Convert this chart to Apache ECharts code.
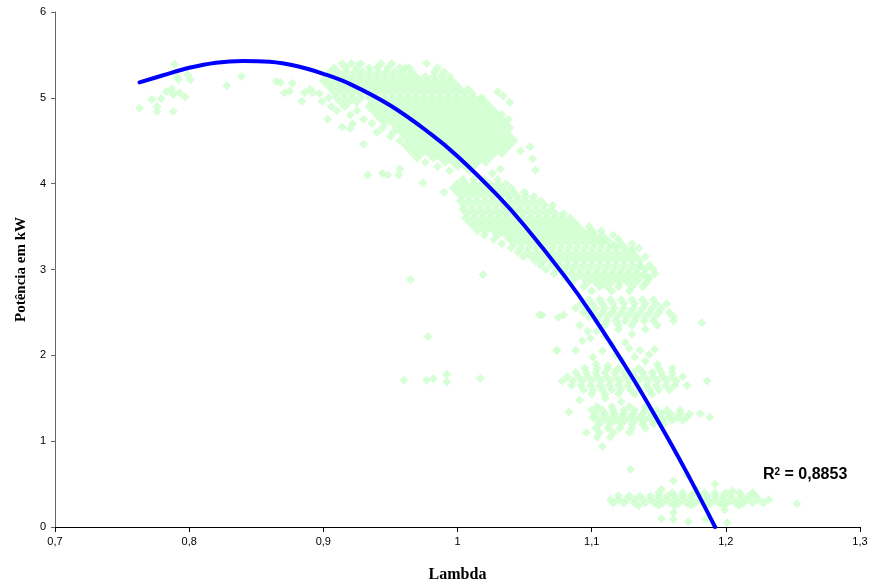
<!DOCTYPE html>
<html>
<head>
<meta charset="utf-8">
<script src="https://cdn.jsdelivr.net/npm/echarts@6/dist/echarts.min.js"></script>
<style>html,body{margin:0;padding:0;background:#fff;}#c{width:871px;height:588px;}</style>
</head>
<body>
<div id="c"></div>
<script>
// Axis tick labels
const xTickLabels = ['0,7','0,8','0,9','1','1,1','1,2','1,3'];
const yTickLabels = ['0','1','2','3','4','5','6'];
const xTitle = 'Lambda';
const yTitle = 'Potência em kW';
const r2Value = '0,8853';

// Trend line (polynomial, order 2)
const trendX = [0.763,0.78,0.80,0.82,0.84,0.86,0.88,0.90,0.92,0.95,0.98,1.00,1.03,1.05,1.08,1.10,1.13,1.15,1.17,1.192];
const trendY = [5.18,5.26,5.35,5.41,5.43,5.42,5.37,5.28,5.16,4.91,4.58,4.32,3.86,3.51,2.92,2.48,1.75,1.22,0.66,0.00];

// Scattered points: [lambda, kW]
const leftGroup = [[0.763,4.88],[0.772,4.98],[0.776,4.90],[0.776,4.84],[0.779,4.99],[0.783,5.07],[0.787,5.10],[0.788,5.04],[0.788,4.84],[0.789,5.39],[0.791,5.24],[0.792,5.21],[0.793,5.06],[0.797,5.01],[0.799,5.27],[0.801,5.21],[0.828,5.14],[0.839,5.25],[0.865,5.19],[0.871,5.06],[0.875,5.08],[0.877,5.17],[0.868,5.18],[0.886,5.06],[0.892,5.06],[0.884,4.96],[0.899,4.96],[0.903,4.75],[0.914,4.66],[0.920,4.64],[0.930,4.46],[0.933,4.10],[0.944,4.12],[0.948,4.10],[0.956,4.10],[0.957,4.17],[0.974,4.01]];

// Upper band rows: [kW, [lambda...]]
const bandA = [
 [5.40,[0.914,0.921,0.928,0.943,0.951,0.977]],
 [5.35,[0.908,0.917,0.925,0.934,0.940,0.948,0.957,0.961,0.964,0.985]],
 [5.30,[0.905,0.911,0.917,0.923,0.929,0.935,0.941,0.947,0.953,0.959,0.966,0.983,0.990]],
 [5.25,[0.903,0.909,0.915,0.921,0.927,0.933,0.939,0.945,0.951,0.957,0.963,0.969,0.976,0.982,0.988,0.994]],
 [5.20,[0.900,0.906,0.912,0.918,0.924,0.930,0.936,0.942,0.948,0.954,0.960,0.966,0.972,0.978,0.984,0.990,0.996]],
 [5.15,[0.903,0.909,0.915,0.921,0.927,0.933,0.939,0.945,0.951,0.957,0.963,0.969,0.975,0.981,0.987,0.993,0.999]],
 [5.10,[0.890,0.906,0.912,0.918,0.924,0.930,0.936,0.942,0.948,0.954,0.960,0.966,0.972,0.978,0.984,0.990,0.996,1.002,1.008]],
 [5.05,[0.897,0.909,0.915,0.921,0.927,0.933,0.939,0.945,0.951,0.957,0.963,0.969,0.975,0.981,0.987,0.993,0.999,1.005,1.011]],
 [5.00,[0.904,0.910,0.916,0.922,0.928,0.934,0.940,0.946,0.952,0.958,0.964,0.970,0.976,0.982,0.988,0.994,1.000,1.006,1.012,1.018]],
 [4.95,[0.913,0.919,0.925,0.937,0.943,0.949,0.955,0.961,0.967,0.973,0.979,0.985,0.991,0.997,1.003,1.009,1.015,1.021]],
 [4.90,[0.906,0.916,0.934,0.940,0.946,0.952,0.958,0.964,0.970,0.976,0.982,0.988,0.994,1.000,1.006,1.012,1.018,1.024]],
 [4.85,[0.910,0.925,0.937,0.943,0.949,0.955,0.961,0.967,0.973,0.979,0.985,0.991,0.997,1.003,1.009,1.015,1.021,1.027]],
 [4.80,[0.920,0.940,0.946,0.952,0.958,0.964,0.970,0.976,0.982,0.988,0.994,1.000,1.006,1.012,1.018,1.024,1.030]],
 [4.75,[0.930,0.943,0.949,0.955,0.961,0.967,0.973,0.979,0.985,0.991,0.997,1.003,1.009,1.015,1.021,1.027,1.033]],
 [4.70,[0.922,0.936,0.946,0.952,0.958,0.964,0.970,0.976,0.982,0.988,0.994,1.000,1.006,1.012,1.018,1.024,1.030,1.036]],
 [4.65,[0.944,0.955,0.961,0.967,0.973,0.979,0.985,0.991,0.997,1.003,1.009,1.015,1.021,1.027,1.033,1.039]],
 [4.60,[0.940,0.952,0.958,0.964,0.970,0.976,0.982,0.988,0.994,1.000,1.006,1.012,1.018,1.024,1.030,1.036]],
 [4.55,[0.950,0.961,0.967,0.973,0.979,0.985,0.991,0.997,1.003,1.009,1.015,1.021,1.027,1.033,1.039]],
 [4.50,[0.957,0.964,0.970,0.976,0.982,0.988,0.994,1.000,1.006,1.012,1.018,1.024,1.030,1.036,1.042]],
 [4.45,[0.961,0.967,0.973,0.979,0.985,0.991,0.997,1.003,1.009,1.015,1.021,1.027,1.033,1.039]],
 [4.40,[0.964,0.970,0.976,0.982,0.988,0.994,1.000,1.006,1.012,1.018,1.024,1.030,1.036]],
 [4.35,[0.967,0.973,0.979,0.985,0.991,0.997,1.003,1.009,1.015,1.021,1.027,1.033]],
 [4.30,[0.970,0.982,0.988,0.994,1.000,1.006,1.012,1.018,1.024]],
 [4.25,[0.976,0.991,0.997,1.003,1.009,1.015,1.021]],
 [4.20,[0.985,1.000,1.006,1.012]],
 [4.15,[0.994,1.009]]
];
const bandAEdge = [[1.030,5.07],[1.034,5.02],[1.039,4.95],[1.018,4.98],[1.033,4.81],[1.038,4.75],[1.047,4.38],[1.054,4.43],[1.056,4.29],[1.058,4.16],[1.026,4.12],[1.032,4.17]];

// Second band rows
const bandB = [
 [4.05,[1.004,1.012,1.020,1.030]],
 [4.00,[1.000,1.006,1.012,1.018,1.024,1.030,1.036]],
 [3.95,[0.997,1.003,1.009,1.015,1.021,1.027,1.033,1.040]],
 [3.90,[0.990,1.000,1.006,1.012,1.018,1.024,1.030,1.036,1.042,1.050]],
 [3.85,[1.003,1.009,1.015,1.021,1.027,1.033,1.039,1.045,1.051,1.057]],
 [3.80,[1.002,1.008,1.014,1.020,1.026,1.032,1.038,1.044,1.050,1.056,1.062]],
 [3.75,[1.005,1.011,1.017,1.023,1.029,1.035,1.041,1.047,1.053,1.059,1.065,1.071]],
 [3.70,[1.004,1.010,1.016,1.022,1.028,1.034,1.040,1.046,1.052,1.058,1.064,1.070]],
 [3.65,[1.007,1.013,1.019,1.025,1.031,1.037,1.043,1.049,1.055,1.061,1.067,1.073,1.079]],
 [3.60,[1.006,1.012,1.018,1.024,1.030,1.036,1.042,1.048,1.054,1.060,1.066,1.072,1.078,1.084]],
 [3.55,[1.009,1.015,1.021,1.027,1.033,1.039,1.045,1.051,1.057,1.063,1.069,1.075,1.081,1.087]],
 [3.50,[1.012,1.018,1.024,1.030,1.036,1.042,1.048,1.054,1.060,1.066,1.072,1.078,1.084,1.090,1.098]],
 [3.45,[1.015,1.021,1.027,1.033,1.039,1.045,1.051,1.057,1.063,1.069,1.075,1.081,1.087,1.093,1.099,1.107]],
 [3.40,[1.020,1.030,1.036,1.042,1.048,1.054,1.060,1.066,1.072,1.078,1.084,1.090,1.096,1.102,1.108,1.116]],
 [3.35,[1.027,1.039,1.045,1.051,1.057,1.063,1.069,1.075,1.081,1.087,1.093,1.099,1.105,1.111,1.120]],
 [3.30,[1.033,1.042,1.048,1.054,1.060,1.066,1.072,1.078,1.084,1.090,1.096,1.102,1.108,1.114,1.122,1.130]],
 [3.25,[1.040,1.047,1.053,1.059,1.065,1.071,1.077,1.083,1.089,1.095,1.101,1.107,1.113,1.119,1.125,1.135]],
 [3.20,[1.045,1.052,1.058,1.064,1.070,1.076,1.082,1.088,1.094,1.100,1.106,1.112,1.118,1.124,1.130]],
 [3.15,[1.049,1.055,1.061,1.067,1.073,1.079,1.085,1.091,1.097,1.103,1.109,1.115,1.121,1.127,1.133,1.140]],
 [3.10,[1.058,1.064,1.070,1.076,1.082,1.088,1.094,1.100,1.106,1.112,1.118,1.124,1.130,1.136]],
 [3.05,[1.062,1.070,1.076,1.082,1.088,1.094,1.100,1.106,1.112,1.118,1.124,1.130,1.136,1.143]],
 [3.00,[1.066,1.074,1.080,1.086,1.092,1.098,1.104,1.110,1.116,1.122,1.128,1.134,1.140,1.146]],
 [2.95,[1.072,1.079,1.085,1.091,1.097,1.103,1.109,1.115,1.121,1.127,1.133,1.139,1.147]],
 [2.90,[1.080,1.088,1.094,1.100,1.106,1.112,1.118,1.124,1.130,1.136,1.142]],
 [2.85,[1.085,1.097,1.103,1.109,1.115,1.121,1.127,1.133,1.141]],
 [2.80,[1.094,1.106,1.112,1.120,1.130,1.138]],
 [2.75,[1.100,1.115,1.128]]
];
const bandBEdge = [[1.019,2.94],[1.136,3.04],[1.143,2.90],[1.140,2.84],[1.130,3.23],[1.117,3.28],[1.108,3.33],[1.101,3.44]];

// Third band (about 2,5 kW)
const bandC = [
 [2.65,[1.098,1.106,1.114,1.122,1.130,1.138,1.146]],
 [2.60,[1.092,1.100,1.108,1.116,1.124,1.132,1.140,1.148,1.156]],
 [2.55,[1.088,1.096,1.103,1.110,1.117,1.124,1.131,1.138,1.145,1.152]],
 [2.50,[1.094,1.101,1.108,1.115,1.122,1.129,1.136,1.143,1.150,1.158]],
 [2.45,[1.098,1.105,1.112,1.119,1.126,1.133,1.140,1.147,1.161]],
 [2.40,[1.104,1.111,1.118,1.125,1.132,1.139,1.146,1.161]],
 [2.35,[1.091,1.110,1.120,1.130,1.149]]
];
const bandCExtra = [[1.063,2.47],[1.075,2.44],[1.079,2.47],[1.182,2.38],[1.140,2.30],[1.074,2.06],[1.088,2.06],[1.093,2.17],[1.099,2.20],[1.104,2.28],[1.110,2.22],[1.115,2.12],[1.108,2.05],[1.118,2.00],[1.125,2.15],[1.130,2.25],[1.136,2.06],[1.143,2.01],[1.147,2.07],[1.149,1.90],[1.140,1.93],[1.122,1.95],[1.101,1.98],[1.103,1.90],[1.112,1.88],[1.128,2.08],[1.120,2.30],[1.097,2.28],[1.132,1.98]];

// Fourth band (about 1,7 kW)
const bandD = [
 [1.85,[1.095,1.104,1.112,1.120,1.135,1.150,1.160]],
 [1.80,[1.088,1.096,1.103,1.110,1.117,1.124,1.131,1.138,1.145,1.152,1.160]],
 [1.75,[1.082,1.090,1.097,1.104,1.111,1.118,1.125,1.132,1.139,1.146,1.153,1.160,1.168]],
 [1.70,[1.078,1.086,1.093,1.100,1.107,1.114,1.121,1.128,1.135,1.142,1.149,1.156,1.163,1.186]],
 [1.65,[1.085,1.092,1.099,1.106,1.113,1.120,1.127,1.134,1.141,1.148,1.155,1.162,1.171]],
 [1.60,[1.094,1.101,1.108,1.115,1.122,1.129,1.136,1.143,1.150,1.158]],
 [1.55,[1.100,1.110,1.120,1.132,1.145]]
];
const bandDExtra = [[1.091,1.48],[1.110,1.50],[1.122,1.46]];

// Fifth band (about 1,3 kW)
const bandE = [
 [1.40,[1.104,1.115,1.128,1.140]],
 [1.36,[1.100,1.108,1.116,1.124,1.132,1.140,1.148,1.156,1.166]],
 [1.32,[1.103,1.110,1.117,1.124,1.131,1.138,1.145,1.152,1.159,1.166,1.173,1.181]],
 [1.28,[1.101,1.108,1.115,1.122,1.129,1.136,1.143,1.150,1.157,1.164,1.171,1.188]],
 [1.24,[1.104,1.111,1.118,1.125,1.132,1.139,1.146,1.153,1.160,1.168]],
 [1.20,[1.106,1.114,1.122,1.130,1.138,1.146,1.154]],
 [1.15,[1.103,1.112,1.121,1.130,1.140]],
 [1.10,[1.096,1.106,1.116,1.128]],
 [1.05,[1.104,1.114]]
];
const bandEExtra = [[1.083,1.34],[1.108,0.94]];

// Bottom band (about 0,3 kW)
const bandF = [
 [0.40,[1.150,1.160,1.168,1.176,1.184,1.192,1.200,1.210]],
 [0.36,[1.120,1.128,1.136,1.144,1.150,1.156,1.162,1.168,1.174,1.180,1.186,1.192,1.198,1.204,1.212,1.222]],
 [0.32,[1.114,1.120,1.126,1.132,1.138,1.144,1.150,1.156,1.162,1.168,1.174,1.180,1.186,1.192,1.198,1.204,1.210,1.216,1.224,1.232]],
 [0.28,[1.116,1.124,1.132,1.140,1.147,1.153,1.159,1.165,1.171,1.177,1.183,1.189,1.195,1.201,1.207,1.213,1.220,1.228]],
 [0.25,[1.135,1.150,1.162,1.174,1.186,1.198,1.210]]
];
const bandFExtra = [[1.129,0.67],[1.161,0.54],[1.171,0.61],[1.192,0.50],[1.218,0.37],[1.253,0.27],[1.152,0.10],[1.161,0.09],[1.172,0.06],[1.185,0.09],[1.201,0.05],[1.161,0.17],[1.199,0.20],[1.152,0.44],[1.178,0.44],[1.205,0.42],[1.220,0.40]];

// Isolated points
const isolated = [[0.965,2.88],[0.978,2.22],[0.960,1.71],[0.977,1.71],[0.982,1.73],[0.992,1.78],[0.992,1.69],[1.017,1.73],[1.061,2.47],[1.074,2.06]];

function rowsToPoints(rows){
  const out = [];
  rows.forEach(r => r[1].forEach(x => out.push([x, r[0]])));
  return out;
}
const scatterData = [].concat(
  leftGroup,
  rowsToPoints(bandA), bandAEdge,
  rowsToPoints(bandB), bandBEdge,
  rowsToPoints(bandC), bandCExtra,
  rowsToPoints(bandD), bandDExtra,
  rowsToPoints(bandE), bandEExtra,
  rowsToPoints(bandF), bandFExtra,
  isolated
);
const trendData = trendX.map((x, i) => [x, trendY[i]]);

const chart = echarts.init(document.getElementById('c'), null, {renderer: 'canvas'});
chart.setOption({
  animation: false,
  backgroundColor: '#ffffff',
  grid: {left: 55, right: 11, top: 12, bottom: 57, containLabel: false},
  xAxis: {
    type: 'value', min: 0.7, max: 1.3, interval: 0.1,
    name: xTitle, nameLocation: 'middle', nameGap: 40,
    nameTextStyle: {fontFamily: 'Liberation Serif', fontWeight: 'bold', fontSize: 16, color: '#000'},
    axisLine: {show: true, onZero: false, lineStyle: {color: '#000', width: 1}},
    axisTick: {show: true, inside: false, length: 5, lineStyle: {color: '#000'}},
    axisLabel: {fontFamily: 'Liberation Sans', fontSize: 11, color: '#000', margin: 9,
      formatter: v => xTickLabels[Math.round((v - 0.7) * 10)]},
    splitLine: {show: false}
  },
  yAxis: {
    type: 'value', min: 0, max: 6, interval: 1,
    name: yTitle, nameLocation: 'middle', nameGap: 24, nameRotate: 90,
    nameTextStyle: {fontFamily: 'Liberation Serif', fontWeight: 'bold', fontSize: 15, color: '#000'},
    axisLine: {show: true, lineStyle: {color: '#666', width: 1}},
    axisTick: {show: true, inside: false, length: 4, lineStyle: {color: '#666'}},
    axisLabel: {fontFamily: 'Liberation Sans', fontSize: 11, color: '#000', margin: 9,
      formatter: v => yTickLabels[Math.round(v)]},
    splitLine: {show: false}
  },
  series: [
    {
      type: 'scatter', data: scatterData, symbol: 'diamond', symbolSize: 9,
      itemStyle: {color: '#ccffcc'}, z: 2, silent: true
    },
    {
      type: 'line', data: trendData, smooth: 0.4, showSymbol: false,
      lineStyle: {color: '#0000ff', width: 4, cap: 'round'}, z: 3, silent: true
    }
  ],
  graphic: [{
    type: 'text', left: 763, top: 467,
    style: {
      text: '{a|R}{s|2}{a| = ' + r2Value + '}',
      rich: {
        a: {fontFamily: 'Liberation Sans', fontWeight: 'bold', fontSize: 16, fill: '#000', lineHeight: 16, verticalAlign: 'top'},
        s: {fontFamily: 'Liberation Sans', fontWeight: 'bold', fontSize: 10, fill: '#000', lineHeight: 10, verticalAlign: 'top'}
      }
    }
  }]
});
</script>
</body>
</html>
